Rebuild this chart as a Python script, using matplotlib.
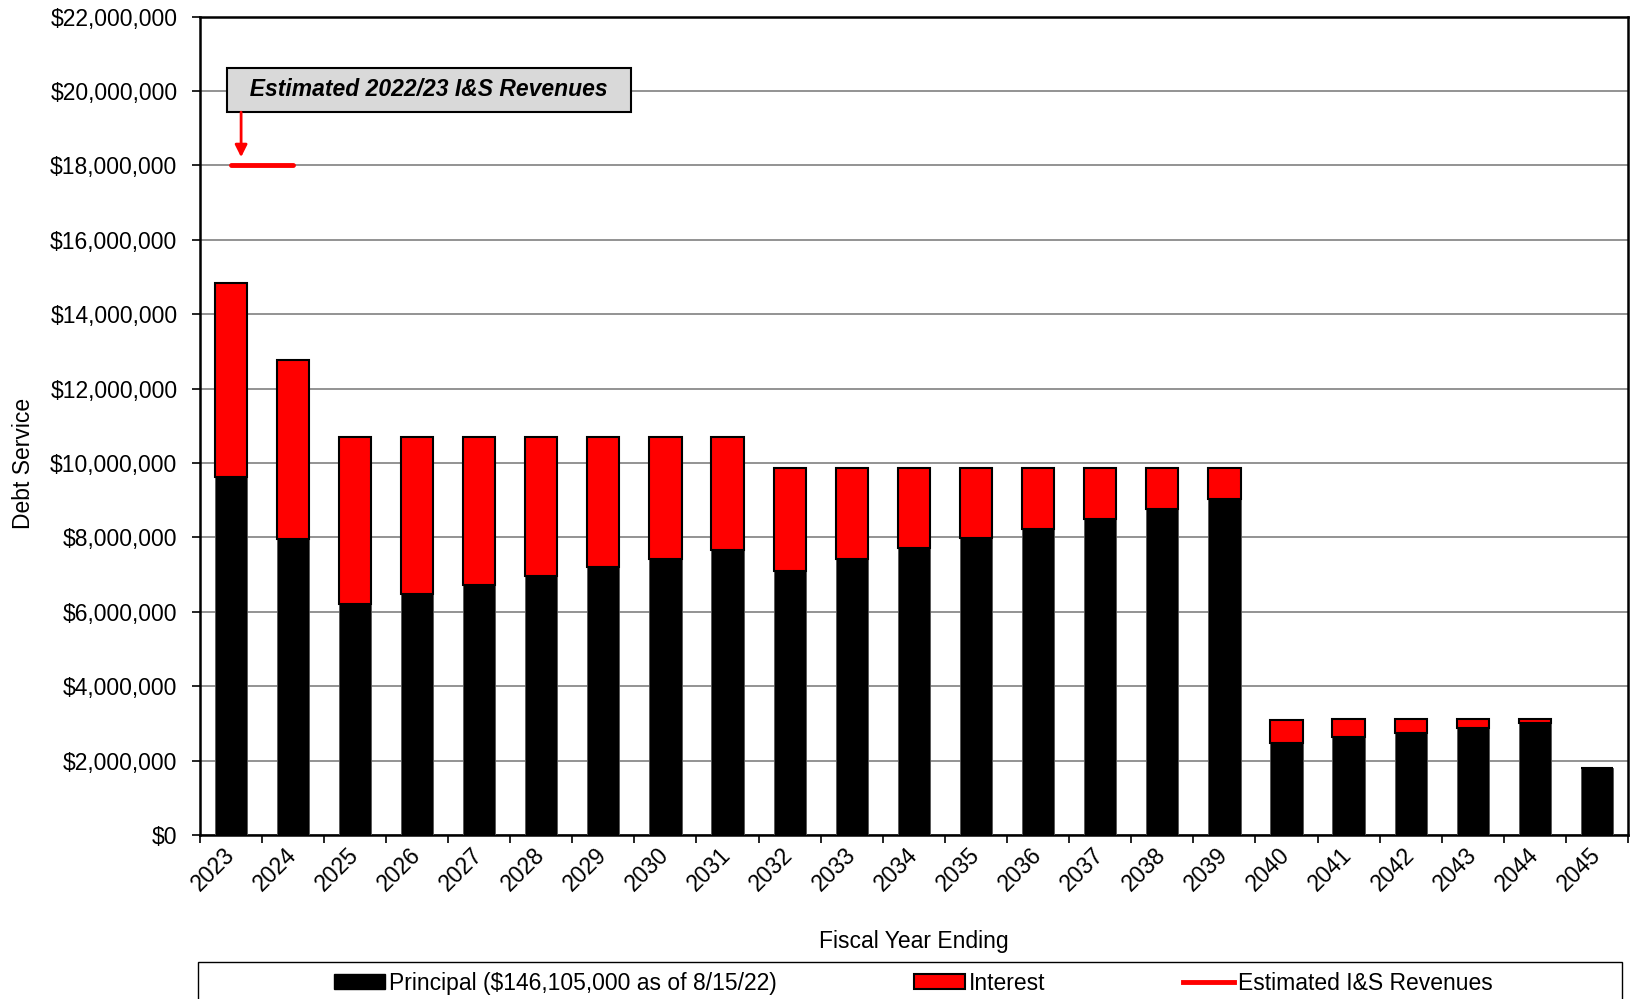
"""Debt service by fiscal year: principal + interest stacked bars vs estimated I&S revenues."""
import matplotlib
matplotlib.use("Agg")
import matplotlib.pyplot as plt
from matplotlib.patches import Patch, Rectangle
from matplotlib.lines import Line2D
from matplotlib.ticker import FuncFormatter, FixedLocator

plt.rcParams["font.family"] = ["Liberation Sans", "DejaVu Sans"]

years = [str(y) for y in range(2023, 2046)]
principal = [9.63, 7.96, 6.20, 6.47, 6.72, 6.97, 7.20, 7.42, 7.66, 7.10, 7.42, 7.71,
             7.98, 8.23, 8.50, 8.77, 9.03, 2.46, 2.63, 2.75, 2.87, 3.01, 1.81]
interest = [5.20, 4.81, 4.49, 4.22, 3.97, 3.72, 3.49, 3.27, 3.03, 2.76, 2.44, 2.15,
            1.88, 1.63, 1.36, 1.09, 0.83, 0.63, 0.49, 0.37, 0.25, 0.11, 0.00]
principal = [v * 1e6 for v in principal]
interest = [v * 1e6 for v in interest]
est_revenue = 18_000_000
revenue_span = [0, 1]  # drawn across the first fiscal year

principal_label = "Principal ($146,105,000 as of 8/15/22)"
interest_label = "Interest"
revenue_label = "Estimated I&S Revenues"
box_text = "Estimated 2022/23 I&S Revenues"

FS = 16.5


def main():
    fig = plt.figure(figsize=(16.30, 9.99), dpi=100)
    ax = fig.add_axes([0.1225, 0.1642, 0.8763, 0.8192])
    x = list(range(len(years)))

    ax.bar(x, principal, width=0.52, color="black", edgecolor="#555555", lw=0.6, zorder=3)
    ax.bar(x, interest, bottom=principal, width=0.52, color="red",
           edgecolor="black", lw=1.5, zorder=3)

    ax.plot(revenue_span, [est_revenue, est_revenue], color="red", lw=3.5,
            solid_capstyle="round", zorder=4)

    ax.text(3.19, 20.03e6, "  " + box_text + "  ", fontsize=FS, fontweight="bold",
            fontstyle="italic", ha="center", va="center", zorder=5,
            bbox=dict(boxstyle="square,pad=0.45", facecolor="#d9d9d9",
                      edgecolor="black", lw=1.5))
    ax.annotate("", xy=(0.167, 18.22e6), xytext=(0.167, 19.43e6),
                arrowprops=dict(arrowstyle="-|>", color="red", lw=2,
                                mutation_scale=18, shrinkA=0, shrinkB=0), zorder=5)

    ax.set_xlim(-0.5, len(years) - 0.5)
    ax.set_ylim(0, 22e6)
    ax.set_yticks([i * 2e6 for i in range(12)])
    ax.yaxis.set_major_formatter(FuncFormatter(lambda v, p: f"${v:,.0f}"))
    ax.set_xticks(x)
    ax.set_xticklabels(years, rotation=45, ha="right", va="center",
                       rotation_mode="anchor", fontsize=FS)
    ax.xaxis.set_minor_locator(FixedLocator([i - 0.5 for i in range(len(years) + 1)]))
    ax.tick_params(axis="x", which="major", length=0, pad=12)
    ax.tick_params(axis="x", which="minor", length=6, width=1.2, direction="out")
    ax.tick_params(axis="y", length=6, width=1.2, direction="out", pad=10, labelsize=FS)

    ax.grid(axis="y", color="#808080", lw=1.2, zorder=0)
    ax.set_axisbelow(True)
    for s in ax.spines.values():
        s.set_linewidth(1.8)
        s.set_color("black")

    ax.set_ylabel("Debt Service", fontsize=FS)
    ax.yaxis.set_label_coords(-0.115, 0.4545)
    ax.set_xlabel("Fiscal Year Ending", fontsize=FS)
    ax.xaxis.set_label_coords(0.5, -0.116)

    handles = [
        Patch(facecolor="black", edgecolor="black"),
        Patch(facecolor="red", edgecolor="black", lw=1.5),
        Line2D([], [], color="red", lw=3.5),
    ]
    fig.legend(handles, [principal_label, interest_label, revenue_label],
               loc="center", bbox_to_anchor=(0.5605, 0.016), ncol=3, frameon=False,
               fontsize=FS, handlelength=2.2, handleheight=0.6, handletextpad=0.2,
               columnspacing=6.0)
    fig.patches.append(Rectangle((197.5 / 1630, -0.05), (1622 - 197.5) / 1630,
                                 0.05 + (999 - 961.5) / 999, transform=fig.transFigure,
                                 fill=False, edgecolor="black", lw=1.0))

    fig.savefig("out.png", dpi=100)


if __name__ == "__main__":
    main()
